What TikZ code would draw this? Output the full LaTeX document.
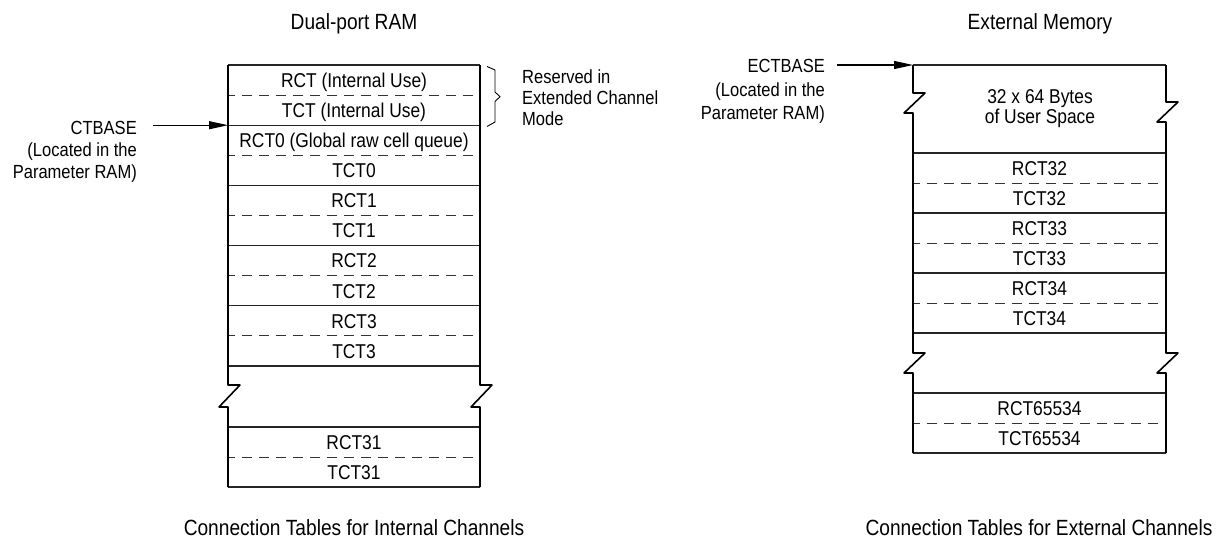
\documentclass[tikz,border=0pt]{standalone}
\usepackage{fontspec}
\setmainfont{Liberation Sans}[FakeStretch=0.87]
\usetikzlibrary{arrows.meta}
\newcommand\celfont{\fontsize{20}{20}\selectfont}
\newcommand\ttlfont{\fontsize{22}{24}\selectfont}
\newcommand\lblfont{\fontsize{19}{21.7}\selectfont}
\newcommand\lblfontb{\fontsize{19}{23.3}\selectfont}
\newcommand\lblfontc{\fontsize{19}{20.8}\selectfont}
\begin{document}
\begin{tikzpicture}[x=1pt,y=-1pt,
  cell/.style={font=\celfont, inner sep=0pt, anchor=base, yshift=-7.2pt},
  ttl/.style={font=\ttlfont, inner sep=0pt, anchor=base, yshift=-7.9pt},
  lbl/.style={inner sep=0pt},
  edge/.style={line width=1.6pt, line join=round},
  solidrow/.style={line width=1.1pt, black!85},
  dashrow/.style={line width=1pt, black!80, dash pattern=on 10pt off 7pt, dash phase=3pt},
  ptr/.style={line width=1.1pt, -{Triangle[length=19pt,width=8pt]}},
  brc/.style={line width=0.9pt}]
\useasboundingbox (0,0) rectangle (1226,544);

% titles and captions
\node[ttl] (t1) at (354,21.5) {Dual-port RAM};
\node[ttl] (t2) at (1040,21.5) {External Memory};
\node[ttl] (c1) at (354,528) {Connection Tables for Internal Channels};
\node[ttl] (c2) at (1039,528) {Connection Tables for External Channels};

% ---------- left table ----------
\foreach \y in {65,125.2,185.4,245.6,305.8,366,427,487}
  \draw[solidrow] (228,\y) -- (480,\y);
\foreach \y in {95.1,155.3,215.5,275.7,335.9,457}
  \draw[dashrow] (228,\y) -- (480,\y);
\draw[edge] (228,65) -- (228,385) -- (240,385) -- (219,407) -- (228,407) -- (228,487);
\draw[edge] (480,65) -- (480,385) -- (492,385) -- (471,407) -- (480,407) -- (480,487);

\node[cell] (l1) at (354,80) {RCT (Internal Use)};
\node[cell] (l2) at (354,110.2) {TCT (Internal Use)};
\node[cell] (l3) at (354,140.3) {RCT0 (Global raw cell queue)};
\node[cell] (l4) at (354,170.4) {TCT0};
\node[cell] (l5) at (354,200.5) {RCT1};
\node[cell] (l6) at (354,230.6) {TCT1};
\node[cell] (l7) at (354,260.7) {RCT2};
\node[cell] (l8) at (354,290.8) {TCT2};
\node[cell] (l9) at (354,320.9) {RCT3};
\node[cell] (l10) at (354,351) {TCT3};
\node[cell] (l11) at (354,442) {RCT31};
\node[cell] (l12) at (354,472) {TCT31};

% brace and reserved label
\draw[brc] (487,66.5) -- (495,70) -- (495,92) -- (500,96.7) -- (495,101.5) -- (495,122) -- (487,126.5);
\node[lbl, font=\lblfontc, align=left, anchor=north west] (resv) at (522,70) {Reserved in\\Extended Channel\\Mode};

% CTBASE pointer
\node[lbl, font=\lblfont, align=right, anchor=north east] (ctb) at (137,121.5) {CTBASE\\(Located in the\\Parameter RAM)};
\coordinate (ctbstart) at (153,125.2);
\coordinate (ctbin) at (228,125.2);
\draw[ptr] (ctbstart) -- (ctbin);

% ---------- right table ----------
\foreach \y in {65,153,213,273,333,393,453}
  \draw[solidrow] (913,\y) -- (1166,\y);
\foreach \y in {183,243,303,423}
  \draw[dashrow] (913,\y) -- (1166,\y);
\draw[edge] (913,65) -- (913,93) -- (925,93) -- (904,113) -- (913,113) -- (913,353)
  -- (925,353) -- (904,373) -- (913,373) -- (913,453);
\draw[edge] (1166,65) -- (1166,102) -- (1178,102) -- (1157,122) -- (1166,122) -- (1166,353)
  -- (1178,353) -- (1157,373) -- (1166,373) -- (1166,453);

\node[inner sep=0pt, font=\celfont, align=center, anchor=north] (usr) at (1040,89.5) {32 x 64 Bytes\\of User Space};
\node[cell] (r1) at (1039.5,168) {RCT32};
\node[cell] (r2) at (1039.5,198) {TCT32};
\node[cell] (r3) at (1039.5,228) {RCT33};
\node[cell] (r4) at (1039.5,258) {TCT33};
\node[cell] (r5) at (1039.5,288) {RCT34};
\node[cell] (r6) at (1039.5,318) {TCT34};
\node[cell] (r7) at (1039.5,408) {RCT65534};
\node[cell] (r8) at (1039.5,438) {TCT65534};

% ECTBASE pointer
\node[lbl, font=\lblfontb, align=right, anchor=north east] (ectb) at (825,59.5) {ECTBASE\\(Located in the\\Parameter RAM)};
\coordinate (ectbstart) at (837,65);
\coordinate (ectbin) at (913,65);
\draw[ptr] (ectbstart) -- (ectbin);
\end{tikzpicture}
\end{document}
